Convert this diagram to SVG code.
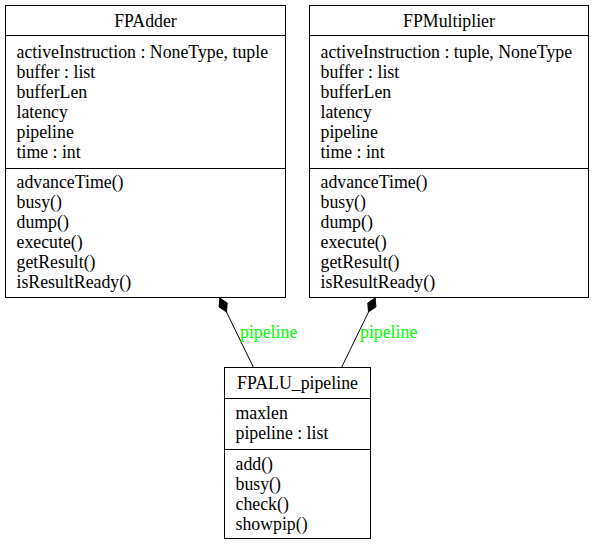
<svg xmlns="http://www.w3.org/2000/svg" width="595" height="545" viewBox="0 0 595 545">
<style>
text{font-family:"Liberation Serif","Times New Roman",serif;font-size:17.8px;fill:#000}
.box{fill:#fff;stroke:#000;stroke-width:1}
.sep{stroke:#000;stroke-width:1}
.edge{stroke:#000;stroke-width:1;fill:none}
.dia{fill:#000;stroke:#000;stroke-width:1}
.lbl{fill:#00ff00}
.t{text-anchor:middle}
</style>
<rect width="595" height="545" fill="#fff"/>
<g id="FPAdder">
<rect class="box" x="5.5" y="5.5" width="280" height="292"/>
<line class="sep" x1="5.5" y1="35.5" x2="285.5" y2="35.5"/>
<line class="sep" x1="5.5" y1="168.5" x2="285.5" y2="168.5"/>
<text class="t" x="145.5" y="26.5">FPAdder</text>
<text x="16.5" y="57.5">activeInstruction : NoneType, tuple</text>
<text x="16.5" y="77.5">buffer : list</text>
<text x="16.5" y="97.5">bufferLen</text>
<text x="16.5" y="117.5">latency</text>
<text x="16.5" y="137.5">pipeline</text>
<text x="16.5" y="157.5">time : int</text>
<text x="16.5" y="188">advanceTime()</text>
<text x="16.5" y="208">busy()</text>
<text x="16.5" y="228">dump()</text>
<text x="16.5" y="248">execute()</text>
<text x="16.5" y="268">getResult()</text>
<text x="16.5" y="288">isResultReady()</text>
</g>
<g id="FPMultiplier">
<rect class="box" x="309.5" y="5.5" width="279" height="292"/>
<line class="sep" x1="309.5" y1="35.5" x2="588.5" y2="35.5"/>
<line class="sep" x1="309.5" y1="168.5" x2="588.5" y2="168.5"/>
<text class="t" x="449" y="26.5">FPMultiplier</text>
<text x="320.5" y="57.5">activeInstruction : tuple, NoneType</text>
<text x="320.5" y="77.5">buffer : list</text>
<text x="320.5" y="97.5">bufferLen</text>
<text x="320.5" y="117.5">latency</text>
<text x="320.5" y="137.5">pipeline</text>
<text x="320.5" y="157.5">time : int</text>
<text x="320.5" y="188">advanceTime()</text>
<text x="320.5" y="208">busy()</text>
<text x="320.5" y="228">dump()</text>
<text x="320.5" y="248">execute()</text>
<text x="320.5" y="268">getResult()</text>
<text x="320.5" y="288">isResultReady()</text>
</g>
<g id="FPALU_pipeline">
<rect class="box" x="224.5" y="367.5" width="146" height="171"/>
<line class="sep" x1="224.5" y1="398.5" x2="370.5" y2="398.5"/>
<line class="sep" x1="224.5" y1="449.5" x2="370.5" y2="449.5"/>
<text class="t" x="297.5" y="388.5">FPALU_pipeline</text>
<text x="235.5" y="419">maxlen</text>
<text x="235.5" y="439">pipeline : list</text>
<text x="235.5" y="470">add()</text>
<text x="235.5" y="490">busy()</text>
<text x="235.5" y="510">check()</text>
<text x="235.5" y="530">showpip()</text>
</g>
<g id="connectors">
<path class="edge" d="M253.5,367.5 L226.5,312"/>
<polygon class="dia" points="226.5,312 227.2,303.05 219.8,298 219.1,306.95"/>
<text class="lbl" x="240" y="338">pipeline</text>
<path class="edge" d="M341.5,367.5 L368.5,312"/>
<polygon class="dia" points="368.5,312 375.9,306.95 375.2,298 367.8,303.05"/>
<text class="lbl" x="360" y="338">pipeline</text>
</g>
</svg>
